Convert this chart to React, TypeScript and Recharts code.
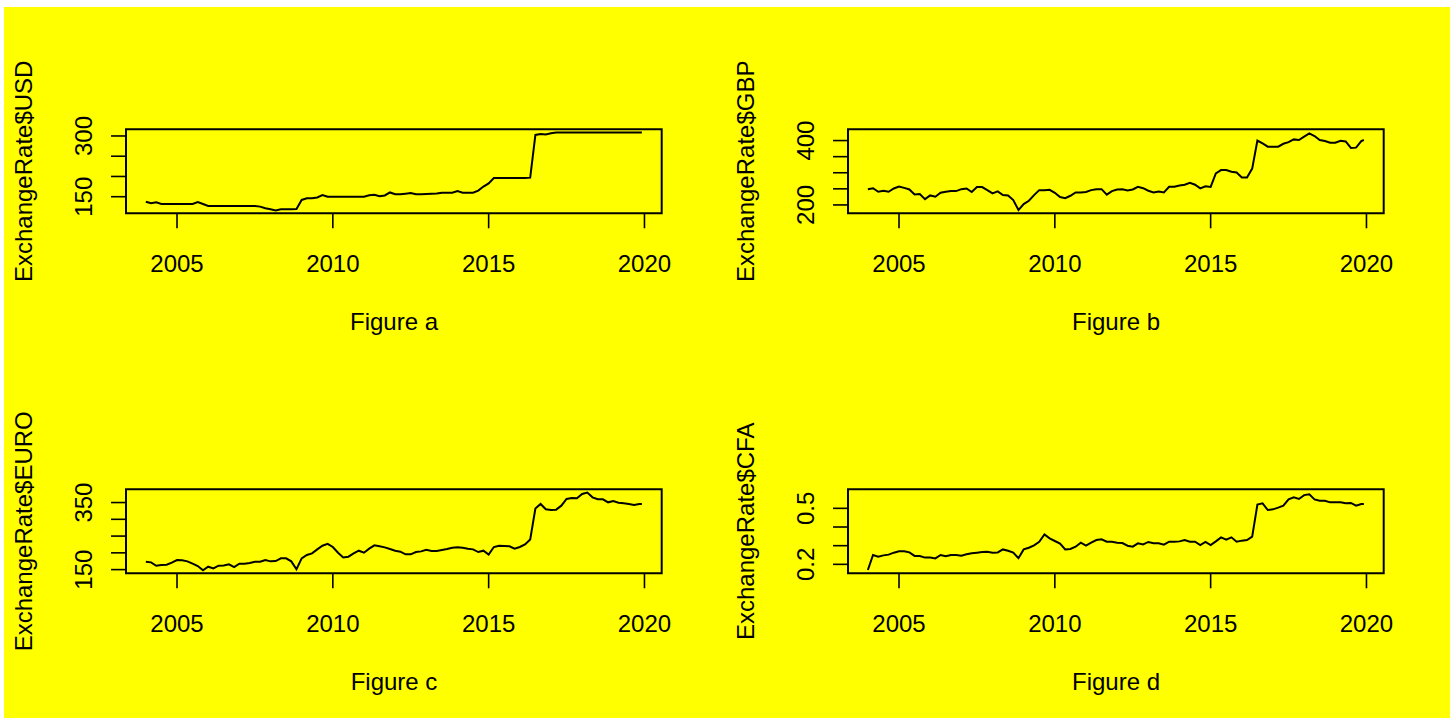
import React from "react";
import { LineChart, Line, XAxis, YAxis, ReferenceArea } from "recharts";

// sample months since Jan 2004 (every second month, plus Dec 2019)
const sampleMonths = Array.from({ length: 97 }, (_, i) => Math.min(i * 2, 191));

const usd = [
  137.7, 134, 136, 132, 132, 132, 132, 132, 132, 132, 136.5, 132,
  127, 127, 127, 127, 127, 127, 127, 127, 127, 127,
  125.5, 121.3, 119, 116, 119, 119, 119, 119.5,
  142, 146, 146, 148, 154, 150,
  150, 150, 150, 150, 150, 150, 150,
  153.4, 155, 151, 153, 160.5,
  156, 156, 157.5, 159, 156, 156, 156.7, 157.5, 158, 160, 160, 160, 164, 160, 160, 160, 165, 175, 183, 196.2,
  196.2, 196.2, 196.2, 196.2, 196.2, 196.2,
  197, 302.5, 305, 303.5, 306.8,
  308.4, 308.4, 308.4, 308.4, 308.4, 308.4, 308.4, 308.4, 308.4, 308.4, 308.4, 308.4, 308.4, 308.4, 308.4, 308.4, 308.4,
  308.4,
];

const gbp = [
  249, 252, 241, 244, 241, 251, 257, 253, 248, 232.6, 233.7, 218,
  229.5, 225.4, 237.8, 241, 243, 243, 249, 251, 240, 255.4, 255.4, 246,
  235.8, 242, 230.6, 229.5, 215, 184, 202.6, 213, 230.6, 246, 246, 247,
  237.8, 224.4, 221.2, 228.5, 239, 239, 240, 246, 249, 249, 232, 243,
  248, 249, 245, 248, 256.5, 252, 244, 239, 242, 239, 256.5, 256.5,
  260.6, 262.7, 268.9, 262.7, 251.3, 258, 256, 298, 308.3, 308.3, 303, 301,
  285.5, 285.5, 313, 400, 391, 381, 381, 381, 390, 395, 403.6, 401.6,
  412, 422.3, 414, 401.6, 398.4, 393.3, 393.3, 399.5, 397.4, 377, 378, 398.4,
  401.6,
];

const euro = [
  173.6, 171.6, 161.6, 163.6, 164.6, 170.6, 178.6, 177.6, 174.6, 167.6, 160.6, 148,
  158.7, 153.7, 161.6, 162.6, 165.6, 157.7, 167.6, 167.6, 169.6, 173.6, 173.6, 178.6,
  174.6, 175.6, 183.6, 183.6, 174.6, 151, 183.6, 193.5, 198.4, 210.4, 221.3, 227,
  217.4, 200.4, 186.5, 188.5, 198.4, 206.4, 200.4, 212.4, 222.3, 219.4, 216.4, 211.4,
  206.4, 203.4, 195.5, 195.5, 202.4, 204.4, 209.4, 205.4, 205.4, 208.4, 211.4, 215.4,
  216.4, 215.4, 212.4, 210.4, 202.4, 206.4, 195, 217.4, 221.3, 220.3, 219.4, 212.4,
  217.4, 225.3, 240, 332, 345.7, 329.8, 327.8, 328.8, 340.7, 360.6, 363.6, 362.6,
  375.6, 379.6, 365.6, 359.7, 359.7, 350.7, 354.7, 349.7, 347.7, 345.7, 342.7, 345.7,
  345.7,
];

const cfa = [
  0.1696, 0.25, 0.241, 0.248, 0.252, 0.2625, 0.27, 0.27, 0.264, 0.245, 0.245, 0.236,
  0.236, 0.232, 0.25, 0.243, 0.25, 0.25, 0.246, 0.2536, 0.259, 0.2625, 0.266, 0.268,
  0.2625, 0.264, 0.28, 0.273, 0.2625, 0.233, 0.28, 0.289, 0.302, 0.321, 0.36, 0.339,
  0.325, 0.311, 0.28, 0.282, 0.2946, 0.316, 0.3, 0.316, 0.33, 0.334, 0.321, 0.321,
  0.316, 0.314, 0.3, 0.2946, 0.3125, 0.307, 0.32, 0.3125, 0.3125, 0.305, 0.321, 0.321,
  0.323, 0.33, 0.321, 0.321, 0.3036, 0.32, 0.303, 0.323, 0.3446, 0.332, 0.3446, 0.321,
  0.327, 0.33, 0.348, 0.52, 0.5268, 0.491, 0.4946, 0.5036, 0.514, 0.548, 0.559, 0.55,
  0.571, 0.575, 0.548, 0.541, 0.541, 0.532, 0.532, 0.532, 0.527, 0.529, 0.514, 0.523,
  0.523,
];

const yearTicks = [2005, 2010, 2015, 2020];
const xDomain = [2003.363, 2020.553];

const FONT = "'Liberation Sans', Arial, Helvetica, sans-serif";

const toRows = (vals: number[]) =>
  sampleMonths.map((m, i) => ({ t: 2004 + m / 12, v: vals[i] }));

type PanelProps = {
  values: number[];
  yDomain: [number, number];
  yTicks: number[];
  yShown: number[];
  yTitle: string;
  xTitle: string;
  left: number;
  top: number;
};

function Panel({ values, yDomain, yTicks, yShown, yTitle, xTitle, left, top }: PanelProps) {
  const data = toRows(values);
  const yTick = (p: any) => {
    const { x, y, payload } = p;
    if (!yShown.includes(payload.value)) return <g />;
    return (
      <text
        x={x}
        y={y}
        transform={`rotate(-90 ${x} ${y})`}
        textAnchor="middle"
        fontSize={24}
        fontFamily={FONT}
        fill="#000"
      >
        {payload.value}
      </text>
    );
  };
  return (
    <div style={{ position: "absolute", left, top }}>
      <LineChart
        width={725}
        height={360}
        data={data}
        margin={{ top: 129.3, right: 63.3, bottom: 6.7, left: 26 }}
      >
        <XAxis
          type="number"
          dataKey="t"
          domain={xDomain}
          allowDataOverflow
          ticks={yearTicks}
          interval={0}
          height={140}
          stroke="#000"
          axisLine={false}
          tickSize={15}
          tickMargin={26.7}
          tickLine={{ stroke: "#000", strokeWidth: 1.6 }}
          tick={{ fill: "#000", fontSize: 24, fontFamily: FONT }}
          label={{
            content: () => (
              <text x={394} y={330} textAnchor="middle" fontSize={24} fontFamily={FONT} fill="#000">
                {xTitle}
              </text>
            ),
          }}
        />
        <YAxis
          type="number"
          domain={yDomain}
          allowDataOverflow
          ticks={yTicks}
          interval={0}
          width={100}
          axisLine={false}
          tickSize={15}
          tickMargin={18.5}
          tickLine={{ stroke: "#000", strokeWidth: 1.6 }}
          tick={yTick}
          label={{
            content: () => (
              <text
                x={32.5}
                y={171.3}
                transform="rotate(-90 32.5 171.3)"
                textAnchor="middle"
                fontSize={24}
                fontFamily={FONT}
                fill="#000"
              >
                {yTitle}
              </text>
            ),
          }}
        />
        <ReferenceArea
          x1={xDomain[0]}
          x2={xDomain[1]}
          y1={yDomain[0]}
          y2={yDomain[1]}
          fill="none"
          stroke="#000"
          strokeWidth={2}
          ifOverflow="visible"
        />
        <Line
          type="linear"
          dataKey="v"
          stroke="#000"
          strokeWidth={2}
          dot={false}
          isAnimationActive={false}
        />
      </LineChart>
    </div>
  );
}

export default function App() {
  return (
    <div
      style={{
        position: "absolute",
        left: 0,
        top: 0,
        width: 1450,
        height: 719,
        background: "#fff",
        overflow: "hidden",
        fontFamily: FONT,
      }}
    >
      <div
        style={{
          position: "absolute",
          left: 4,
          top: 7,
          width: 1446,
          height: 711,
          background: "#ffff00",
        }}
      />
      <Panel
        values={usd}
        yDomain={[109, 316.5]}
        yTicks={[150, 200, 250, 300]}
        yShown={[150, 300]}
        yTitle="ExchangeRate$USD"
        xTitle="Figure a"
        left={0}
        top={0}
      />
      <Panel
        values={gbp}
        yDomain={[174, 435]}
        yTicks={[200, 250, 300, 350, 400]}
        yShown={[200, 400]}
        yTitle="ExchangeRate$GBP"
        xTitle="Figure b"
        left={722}
        top={0}
      />
      <Panel
        values={euro}
        yDomain={[139, 389.5]}
        yTicks={[150, 200, 250, 300, 350]}
        yShown={[150, 350]}
        yTitle="ExchangeRate$EURO"
        xTitle="Figure c"
        left={0}
        top={360}
      />
      <Panel
        values={cfa}
        yDomain={[0.152, 0.602]}
        yTicks={[0.2, 0.3, 0.4, 0.5]}
        yShown={[0.2, 0.5]}
        yTitle="ExchangeRate$CFA"
        xTitle="Figure d"
        left={722}
        top={360}
      />
    </div>
  );
}
